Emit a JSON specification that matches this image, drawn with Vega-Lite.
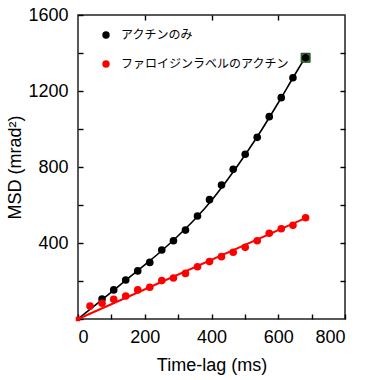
{
  "$schema": "https://vega.github.io/schema/vega-lite/v6.json",
  "width": 267,
  "height": 304,
  "autosize": {"type": "none"},
  "padding": {"left": 78, "top": 15, "right": 20, "bottom": 61},
  "config": {
    "view": {"stroke": "#222", "strokeWidth": 1.5},
    "font": "Liberation Sans",
    "axis": {
      "domain": false,
      "grid": false,
      "tickColor": "#000",
      "tickWidth": 1.4,
      "labelColor": "#000",
      "titleColor": "#000",
      "labelFont": "Liberation Sans",
      "titleFont": "Liberation Sans",
      "labelFontSize": 18,
      "titleFontSize": 18,
      "titleFontWeight": "normal"
    }
  },
  "datasets": {
    "pts": [
      {"t": 72, "msd": 105, "series": "アクチンのみ"},
      {"t": 107, "msd": 153, "series": "アクチンのみ"},
      {"t": 143, "msd": 205, "series": "アクチンのみ"},
      {"t": 179, "msd": 253, "series": "アクチンのみ"},
      {"t": 215, "msd": 298, "series": "アクチンのみ"},
      {"t": 251, "msd": 363, "series": "アクチンのみ"},
      {"t": 286, "msd": 412, "series": "アクチンのみ"},
      {"t": 322, "msd": 468, "series": "アクチンのみ"},
      {"t": 358, "msd": 542, "series": "アクチンのみ"},
      {"t": 394, "msd": 628, "series": "アクチンのみ"},
      {"t": 430, "msd": 705, "series": "アクチンのみ"},
      {"t": 465, "msd": 788, "series": "アクチンのみ"},
      {"t": 501, "msd": 867, "series": "アクチンのみ"},
      {"t": 537, "msd": 956, "series": "アクチンのみ"},
      {"t": 573, "msd": 1065, "series": "アクチンのみ"},
      {"t": 609, "msd": 1165, "series": "アクチンのみ"},
      {"t": 644, "msd": 1270, "series": "アクチンのみ"},
      {"t": 682, "msd": 1375, "series": "アクチンのみ"},
      {"t": 36, "msd": 68, "series": "ファロイジンラベルのアクチン"},
      {"t": 72, "msd": 83, "series": "ファロイジンラベルのアクチン"},
      {"t": 107, "msd": 104, "series": "ファロイジンラベルのアクチン"},
      {"t": 143, "msd": 121, "series": "ファロイジンラベルのアクチン"},
      {"t": 179, "msd": 153, "series": "ファロイジンラベルのアクチン"},
      {"t": 215, "msd": 167, "series": "ファロイジンラベルのアクチン"},
      {"t": 251, "msd": 202, "series": "ファロイジンラベルのアクチン"},
      {"t": 286, "msd": 216, "series": "ファロイジンラベルのアクチン"},
      {"t": 322, "msd": 240, "series": "ファロイジンラベルのアクチン"},
      {"t": 358, "msd": 275, "series": "ファロイジンラベルのアクチン"},
      {"t": 394, "msd": 302, "series": "ファロイジンラベルのアクチン"},
      {"t": 430, "msd": 328, "series": "ファロイジンラベルのアクチン"},
      {"t": 465, "msd": 351, "series": "ファロイジンラベルのアクチン"},
      {"t": 501, "msd": 377, "series": "ファロイジンラベルのアクチン"},
      {"t": 537, "msd": 412, "series": "ファロイジンラベルのアクチン"},
      {"t": 573, "msd": 451, "series": "ファロイジンラベルのアクチン"},
      {"t": 609, "msd": 475, "series": "ファロイジンラベルのアクチン"},
      {"t": 644, "msd": 493, "series": "ファロイジンラベルのアクチン"},
      {"t": 682, "msd": 533, "series": "ファロイジンラベルのアクチン"}
    ],
    "fitA": [
      {"t": 0, "msd": 0},
      {"t": 50, "msd": 70},
      {"t": 100, "msd": 142},
      {"t": 150, "msd": 214},
      {"t": 200, "msd": 285},
      {"t": 250, "msd": 358},
      {"t": 300, "msd": 438},
      {"t": 350, "msd": 525},
      {"t": 400, "msd": 624},
      {"t": 450, "msd": 738},
      {"t": 500, "msd": 862},
      {"t": 550, "msd": 995},
      {"t": 600, "msd": 1138},
      {"t": 650, "msd": 1287},
      {"t": 688, "msd": 1398}
    ],
    "fitB": [
      {"t": 0, "msd": 0},
      {"t": 688, "msd": 536}
    ],
    "marks": [
      {"t": 682, "msd": 1375, "kind": "end"},
      {"t": 0, "msd": 0, "kind": "origin"}
    ]
  },
  "layer": [
    {
      "data": {"name": "fitA"},
      "mark": {"type": "line", "color": "#000", "strokeWidth": 1.6, "interpolate": "monotone"},
      "encoding": {
        "x": {
          "field": "t", "type": "quantitative",
          "scale": {"domain": [0, 800], "nice": false},
          "axis": {
            "orient": "bottom",
            "values": [0, 100, 200, 300, 400, 500, 600, 700, 800],
            "format": "d",
            "labelExpr": "datum.value % 200 == 0 ? datum.label : ''",
            "offset": -5,
            "tickSize": 5,
            "labelPadding": 9,
            "title": "Time-lag (ms)",
            "titlePadding": 10
          }
        },
        "y": {
          "field": "msd", "type": "quantitative",
          "scale": {"domain": [0, 1600], "nice": false},
          "axis": {
            "orient": "left",
            "values": [0, 200, 400, 600, 800, 1000, 1200, 1400, 1600],
            "format": "d",
            "labelExpr": "datum.value % 400 == 0 && datum.value > 0 ? datum.label : ''",
            "offset": -5,
            "tickSize": 5,
            "labelPadding": 10,
            "title": "MSD (mrad²)",
            "titlePadding": 3
          }
        }
      }
    },
    {
      "data": {"name": "fitB"},
      "mark": {"type": "line", "color": "#ff0000", "strokeWidth": 2},
      "encoding": {
        "x": {
          "field": "t", "type": "quantitative",
          "axis": {"orient": "top", "values": [200, 400, 600], "labels": false, "title": null, "offset": -5, "tickSize": 5}
        },
        "y": {
          "field": "msd", "type": "quantitative",
          "axis": {"orient": "right", "values": [200, 400, 600, 800, 1000, 1200, 1400], "labels": false, "title": null, "offset": -5, "tickSize": 5}
        }
      }
    },
    {
      "data": {"name": "marks"},
      "transform": [{"filter": "datum.kind == 'end'"}],
      "mark": {"type": "square", "filled": true, "color": "#3c9a3c", "stroke": "#1a3a1a", "strokeWidth": 1, "size": 80, "opacity": 1},
      "encoding": {
        "x": {"field": "t", "type": "quantitative", "axis": null},
        "y": {"field": "msd", "type": "quantitative", "axis": null}
      }
    },
    {
      "data": {"name": "pts"},
      "mark": {"type": "circle", "size": 58, "opacity": 1},
      "encoding": {
        "x": {"field": "t", "type": "quantitative", "axis": null},
        "y": {"field": "msd", "type": "quantitative", "axis": null},
        "color": {
          "field": "series", "type": "nominal",
          "scale": {"domain": ["アクチンのみ", "ファロイジンラベルのアクチン"], "range": ["#000000", "#ff0000"]},
          "legend": {
            "orient": "none",
            "legendX": 22,
            "legendY": 14,
            "title": null,
            "padding": 0,
            "symbolType": "circle",
            "symbolSize": 55,
            "symbolStrokeWidth": 0,
            "labelFont": "Noto Sans CJK JP",
            "labelFontSize": 12,
            "labelLimit": 400,
            "labelColor": "#000",
            "labelOffset": 9,
            "rowPadding": 17
          }
        }
      }
    },
    {
      "data": {"name": "marks"},
      "transform": [{"filter": "datum.kind == 'origin'"}],
      "mark": {"type": "square", "filled": true, "color": "#ff0000", "size": 20, "opacity": 1},
      "encoding": {
        "x": {"field": "t", "type": "quantitative", "axis": null},
        "y": {"field": "msd", "type": "quantitative", "axis": null}
      }
    }
  ]
}
